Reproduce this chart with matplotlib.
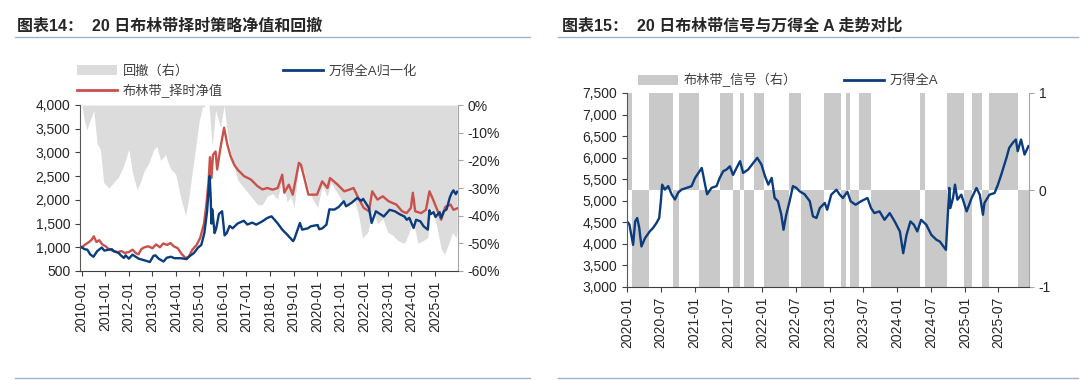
import matplotlib
matplotlib.use('Agg')
import matplotlib.pyplot as plt
import matplotlib.dates as mdates
import matplotlib.ticker as mticker
from matplotlib.patches import Patch
from matplotlib.lines import Line2D
import pandas as pd

plt.rcParams['font.family'] = ['Liberation Sans', 'Noto Sans CJK SC']
plt.rcParams['axes.unicode_minus'] = False

# ---------- chart 14: strategy NAV vs Wind A, drawdown on the right ----------
wind_dates = ['2010-01-04', '2010-02-15', '2010-04-01', '2010-05-15', '2010-07-05', '2010-08-30',
              '2010-11-10', '2010-12-20', '2011-02-28', '2011-04-15', '2011-05-20', '2011-07-30',
              '2011-09-10', '2011-10-20', '2011-11-15', '2012-01-05', '2012-03-01', '2012-04-20',
              '2012-06-05', '2012-08-20', '2012-11-25', '2013-01-20', '2013-02-20', '2013-04-10',
              '2013-06-25', '2013-08-15', '2013-10-20', '2013-12-10', '2014-03-10', '2014-05-10',
              '2014-06-15', '2014-08-10', '2014-10-10', '2014-12-10', '2015-02-01', '2015-03-20',
              '2015-05-01', '2015-06-10', '2015-06-25', '2015-07-08', '2015-07-20', '2015-08-26',
              '2015-09-20', '2015-11-01', '2015-12-20', '2016-01-28', '2016-03-01', '2016-04-15',
              '2016-06-01', '2016-08-15', '2016-11-20', '2017-01-15', '2017-04-01', '2017-06-01',
              '2017-09-05', '2017-11-20', '2018-01-25', '2018-04-25', '2018-07-10', '2018-09-25',
              '2018-12-25', '2019-01-15', '2019-04-10', '2019-05-15', '2019-08-10', '2019-09-25',
              '2020-01-10', '2020-02-03', '2020-03-23', '2020-05-25', '2020-07-10', '2020-09-25',
              '2020-12-01', '2021-02-18', '2021-03-25', '2021-06-20', '2021-09-15', '2021-11-15',
              '2021-12-15', '2022-03-15', '2022-04-26', '2022-06-30', '2022-10-31', '2023-01-30',
              '2023-04-20', '2023-07-01', '2023-09-15', '2023-10-23', '2023-12-01', '2024-02-05',
              '2024-03-15', '2024-05-20', '2024-07-10', '2024-09-13', '2024-10-08', '2024-10-30',
              '2024-12-10', '2025-01-10', '2025-03-15', '2025-04-08', '2025-05-20', '2025-07-01',
              '2025-08-20', '2025-09-20', '2025-10-15', '2025-11-20', '2025-12-12']
wind_norm = [1000, 960, 950, 850, 800, 916,
             995, 930, 950, 960, 916, 880,
             820, 775, 830, 760, 845, 800,
             760, 730, 690, 820, 830, 760,
             700, 780, 800, 770, 770, 760,
             750, 820, 880, 990, 1050, 1300,
             1750, 2500, 2100, 1500, 1800, 1300,
             1400, 1700, 1760, 1250, 1300, 1450,
             1400, 1500, 1560, 1480, 1520, 1477,
             1548, 1618, 1653, 1513, 1372, 1266,
             1130, 1180, 1513, 1372, 1400, 1442,
             1470, 1380, 1400, 1477, 1800, 1794,
             1850, 1970, 1864, 1940, 2040, 1980,
             2020, 1829, 1513, 1759, 1650, 1790,
             1760, 1700, 1650, 1580, 1620, 1407,
             1580, 1548, 1442, 1372, 1780, 1700,
             1740, 1640, 1740, 1620, 1760, 1800,
             2050, 2150, 2200, 2120, 2170]

nav_dates = ['2010-01-04', '2010-02-20', '2010-04-15', '2010-06-01', '2010-07-10', '2010-08-20',
             '2010-10-01', '2010-11-20', '2011-01-10', '2011-03-01', '2011-05-15', '2011-07-20',
             '2011-09-10', '2011-11-01', '2012-01-05', '2012-03-01', '2012-04-20', '2012-06-01',
             '2012-07-15', '2012-09-01', '2012-11-01', '2013-01-05', '2013-03-01', '2013-05-01',
             '2013-06-20', '2013-08-20', '2013-10-10', '2013-12-01', '2014-02-01', '2014-04-01',
             '2014-06-01', '2014-07-20', '2014-09-15', '2014-11-20', '2015-01-15', '2015-03-15',
             '2015-04-20', '2015-05-25', '2015-06-15', '2015-07-08', '2015-08-01', '2015-09-10',
             '2015-10-05', '2015-11-25', '2016-01-20', '2016-03-10', '2016-04-30', '2016-06-25',
             '2016-08-15', '2016-11-25', '2017-03-10', '2017-06-20', '2017-09-05', '2017-11-20',
             '2018-02-10', '2018-05-01', '2018-07-10', '2018-08-10', '2018-10-20', '2018-12-20',
             '2019-03-25', '2019-04-25', '2019-06-10', '2019-08-20', '2019-12-31', '2020-03-20',
             '2020-06-10', '2020-07-20', '2020-11-15', '2021-02-25', '2021-05-15', '2021-07-20',
             '2021-10-01', '2021-12-25', '2022-03-15', '2022-05-05', '2022-07-25', '2022-10-15',
             '2023-01-15', '2023-05-15', '2023-08-10', '2023-10-20', '2023-12-25', '2024-01-25',
             '2024-03-01', '2024-06-01', '2024-08-15', '2024-10-08', '2024-11-20', '2025-02-15',
             '2025-04-08', '2025-06-10', '2025-09-01', '2025-10-15', '2025-12-12']
nav_vals = [1000, 1050, 1100, 1150, 1230, 1110,
            1150, 1060, 1020, 960, 916, 900,
            920, 880, 900, 950, 880, 850,
            960, 1000, 1020, 980, 1060, 1000,
            1080, 1050, 1090, 1020, 980, 860,
            775, 800, 950, 1050, 1200, 1500,
            1900, 2400, 2900, 2460, 2950, 3020,
            2640, 3100, 3520, 3170, 2920, 2740,
            2640, 2500, 2430, 2290, 2220, 2250,
            2215, 2250, 2530, 2150, 2320, 2110,
            2780, 2740, 2500, 2110, 2110, 2390,
            2250, 2460, 2320, 2180, 2215, 2250,
            2040, 1830, 1760, 2180, 2005, 2075,
            1970, 1900, 1760, 1720, 1830, 2150,
            1760, 1720, 1790, 2180, 2050, 1760,
            1580, 1850, 1900, 1790, 1820]

dd_dates = ['2010-01-04', '2010-02-05', '2010-03-25', '2010-05-20', '2010-07-10', '2010-08-30',
            '2010-10-20', '2010-12-10', '2011-03-01', '2011-05-15', '2011-07-30', '2011-10-15',
            '2012-01-05', '2012-02-25', '2012-05-10', '2012-07-01', '2012-08-25', '2012-11-10',
            '2013-01-25', '2013-03-15', '2013-05-10', '2013-07-25', '2013-10-10', '2013-12-30',
            '2014-03-15', '2014-06-01', '2014-07-20', '2014-09-15', '2014-11-05', '2014-12-28',
            '2015-02-15', '2015-04-10', '2015-06-01', '2015-07-20', '2015-09-10', '2015-11-28',
            '2016-01-20', '2016-03-10', '2016-05-01', '2016-06-25', '2016-08-15', '2016-11-25',
            '2017-03-10', '2017-06-20', '2017-09-05', '2017-11-20', '2018-02-10', '2018-04-25',
            '2018-07-10', '2018-09-25', '2018-11-20', '2019-01-10', '2019-03-28', '2019-06-12',
            '2019-08-08', '2019-10-22', '2020-01-08', '2020-03-25', '2020-06-05', '2020-08-05',
            '2020-11-15', '2021-02-25', '2021-05-15', '2021-07-30', '2021-10-15', '2021-12-05',
            '2022-02-25', '2022-05-12', '2022-07-28', '2022-10-15', '2023-01-01', '2023-03-18',
            '2023-06-05', '2023-09-15', '2023-12-01', '2024-01-22', '2024-04-12', '2024-07-01',
            '2024-09-12', '2024-11-03', '2025-01-22', '2025-04-08', '2025-05-30', '2025-08-05',
            '2025-10-01', '2025-11-25', '2025-12-12']
dd_vals = [0.0, -0.047, -0.09, -0.05, -0.02, -0.14,
           -0.16, -0.28, -0.30, -0.28, -0.26, -0.22,
           -0.16, -0.24, -0.306, -0.28, -0.24, -0.21,
           -0.16, -0.15, -0.20, -0.18, -0.23, -0.25,
           -0.33, -0.40, -0.34, -0.24, -0.155, -0.06,
           -0.01, 0.0, 0.0, -0.15, -0.02, -0.08,
           0.0, -0.10, -0.17, -0.22, -0.27, -0.30,
           -0.33, -0.36, -0.36, -0.33, -0.32, -0.34,
           -0.27, -0.35, -0.33, -0.37, -0.21, -0.24,
           -0.29, -0.34, -0.37, -0.29, -0.33, -0.28,
           -0.32, -0.36, -0.35, -0.34, -0.41, -0.48,
           -0.46, -0.38, -0.43, -0.41, -0.46, -0.47,
           -0.49, -0.50, -0.46, -0.41, -0.50, -0.49,
           -0.48, -0.37, -0.43, -0.52, -0.54, -0.50,
           -0.46, -0.48, -0.45]

left_years = list(range(2010, 2026))

# ---------- chart 15: Bollinger signal vs Wind A ----------
sig_dates = ['2020-01-02', '2020-01-26', '2020-04-28', '2020-09-04', '2020-10-07', '2021-01-25',
             '2021-05-19', '2021-07-25', '2021-09-04', '2021-09-25', '2021-11-16', '2022-01-10',
             '2022-05-28', '2022-07-28', '2022-12-01', '2023-03-04', '2023-03-28', '2023-04-19',
             '2023-06-10', '2023-08-10', '2024-05-01', '2024-06-01', '2024-09-24', '2024-12-28',
             '2025-02-06', '2025-04-03', '2025-05-10', '2025-10-12']
sig_vals = [1, -1, 1, -1, 1, -1,
            1, -1, 1, -1, 1, -1,
            1, -1, 1, -1, 1, -1,
            1, -1, 1, -1, 1, -1,
            1, -1, 1, -1]
sig_end = '2025-12-12'

windA_dates = ['2020-01-02', '2020-01-14', '2020-02-03', '2020-02-14', '2020-02-25', '2020-03-07',
               '2020-03-19', '2020-04-07', '2020-05-03', '2020-05-21', '2020-06-09', '2020-06-23',
               '2020-07-02', '2020-07-09', '2020-07-23', '2020-08-11', '2020-08-29', '2020-09-16',
               '2020-10-04', '2020-10-22', '2020-11-19', '2020-12-15', '2021-01-03', '2021-01-21',
               '2021-02-08', '2021-02-26', '2021-03-09', '2021-04-02', '2021-04-29', '2021-05-16',
               '2021-06-04', '2021-06-22', '2021-07-10', '2021-07-27', '2021-08-15', '2021-09-03',
               '2021-09-20', '2021-10-17', '2021-11-14', '2021-12-05', '2021-12-28', '2022-01-16',
               '2022-02-03', '2022-02-21', '2022-03-09', '2022-03-27', '2022-04-14', '2022-04-26',
               '2022-05-11', '2022-05-29', '2022-06-16', '2022-07-04', '2022-07-22', '2022-08-18',
               '2022-09-15', '2022-10-02', '2022-10-21', '2022-11-08', '2022-12-05', '2022-12-18',
               '2023-01-09', '2023-02-06', '2023-02-24', '2023-03-13', '2023-04-06', '2023-04-24',
               '2023-05-21', '2023-06-18', '2023-07-24', '2023-08-12', '2023-08-30', '2023-09-27',
               '2023-10-24', '2023-11-21', '2023-12-18', '2024-01-15', '2024-02-02', '2024-02-20',
               '2024-03-12', '2024-03-31', '2024-04-18', '2024-05-09', '2024-06-06', '2024-07-03',
               '2024-07-31', '2024-08-18', '2024-09-20', '2024-10-08', '2024-10-14', '2024-10-28',
               '2024-11-08', '2024-11-21', '2024-12-12', '2025-01-10', '2025-02-06', '2025-03-04',
               '2025-03-22', '2025-04-08', '2025-04-16', '2025-05-13', '2025-06-10', '2025-06-28',
               '2025-07-16', '2025-08-13', '2025-08-28', '2025-09-16', '2025-10-03', '2025-10-13',
               '2025-10-31', '2025-11-19', '2025-12-10']
windA_vals = [4520, 4450, 3977, 4520, 4600, 4380,
              3940, 4130, 4290, 4370, 4490, 4600,
              4987, 5375, 5260, 5340, 5150, 5030,
              5190, 5260, 5300, 5340, 5529, 5646,
              5762, 5375, 5150, 5300, 5340, 5530,
              5685, 5725, 5800, 5600, 5760, 5918,
              5646, 5725, 5880, 5995, 5840, 5570,
              5375, 5530, 5066, 4990, 4680, 4328,
              4680, 4990, 5340, 5300, 5220, 5150,
              4990, 4640, 4600, 4830, 4950, 4792,
              5141, 5257, 5141, 5064, 5210, 4987,
              4908, 4987, 5064, 4831, 4715, 4754,
              4559, 4715, 4521, 4289, 3784, 4210,
              4521, 4443, 4289, 4559, 4443, 4210,
              4094, 4055, 3861, 5300, 4831, 5060,
              5374, 5025, 5141, 4754, 5064, 5296,
              5141, 4676, 4947, 5141, 5180, 5374,
              5606, 5994, 6227, 6343, 6421, 6150,
              6421, 6072, 6266]

BLUE = '#0b3c7d'
RED = '#c9514c'
GREY_DD = '#dcdcdc'
GREY_SIG = '#c9c9c9'
LINE_C = '#9fb3cc'
TXT = '#262626'

fig = plt.figure(figsize=(10.8, 3.8), dpi=100)

def style_axes(ax, axr):
    ax.spines['top'].set_visible(False)
    ax.spines['right'].set_visible(False)
    ax.spines['left'].set_color('#595959')
    ax.spines['bottom'].set_color('#404040')
    for s in ['top', 'left', 'bottom']:
        axr.spines[s].set_visible(False)
    axr.spines['right'].set_color('#a6a6a6')
    ax.tick_params(axis='both', direction='out', length=3.5, colors='#404040',
                   labelcolor=TXT, labelsize=10)
    axr.tick_params(axis='y', direction='out', length=3.5, colors='#a6a6a6',
                    labelcolor=TXT, labelsize=10)
    ax.set_zorder(axr.get_zorder() + 1)
    ax.patch.set_visible(False)

# left panel
ax1 = fig.add_axes([80 / 1080, 1 - 271 / 380, 378 / 1080, 166 / 380])
ax1r = ax1.twinx()
ax1r.fill_between(pd.to_datetime(dd_dates), dd_vals, 0, color=GREY_DD, lw=0)
ax1r.set_ylim(-0.6, 0)
ax1r.set_yticks([-0.6, -0.5, -0.4, -0.3, -0.2, -0.1, 0])
ax1r.yaxis.set_major_formatter(mticker.FuncFormatter(lambda v, p: f'{int(round(v * 100))}%'))

ax1.plot(pd.to_datetime(nav_dates), nav_vals, color=RED, lw=1.7)
ax1.plot(pd.to_datetime(wind_dates), wind_norm, color=BLUE, lw=1.7)
ax1.set_ylim(500, 4000)
ax1.set_yticks(range(500, 4001, 500))
ax1.yaxis.set_major_formatter(mticker.FuncFormatter(lambda v, p: f'{v:,.0f}'))
ax1.set_xlim(pd.Timestamp('2009-12-08'), pd.Timestamp('2025-12-25'))
ax1.set_xticks(pd.to_datetime([f'{y}-01-01' for y in left_years]))
ax1.xaxis.set_major_formatter(mdates.DateFormatter('%Y-%m'))
plt.setp(ax1.get_xticklabels(), rotation=90)
style_axes(ax1, ax1r)

fig.legend(handles=[Patch(facecolor=GREY_DD, edgecolor='none'),
                    Line2D([], [], color=RED, lw=2),
                    Line2D([], [], color=BLUE, lw=2)],
           labels=['回撤（右）', '布林带_择时净值', '万得全A归一化'],
           ncol=2, loc='upper left', bbox_to_anchor=(77 / 1080, 1 - 65 / 380),
           frameon=False, fontsize=9.5, handlelength=3.0, handleheight=0.8,
           handletextpad=0.45, columnspacing=4.6, labelspacing=0.5,
           borderpad=0, borderaxespad=0, labelcolor='#404040')

# right panel
ax2 = fig.add_axes([627 / 1080, 1 - 287 / 380, 402 / 1080, 194 / 380])
ax2r = ax2.twinx()
sx = pd.to_datetime(sig_dates + [sig_end])
sy = sig_vals + [sig_vals[-1]]
ax2r.fill_between(sx, sy, 0, step='post', color=GREY_SIG, lw=0)
ax2r.set_ylim(-1, 1)
ax2r.set_yticks([-1, 0, 1])

ax2.plot(pd.to_datetime(windA_dates), windA_vals, color=BLUE, lw=1.7)
ax2.set_ylim(3000, 7500)
ax2.set_yticks(range(3000, 7501, 500))
ax2.yaxis.set_major_formatter(mticker.FuncFormatter(lambda v, p: f'{v:,.0f}'))
ax2.set_xlim(pd.Timestamp('2020-01-01'), pd.Timestamp('2025-12-13'))
ax2.xaxis.set_major_locator(mdates.MonthLocator(bymonth=[1, 7]))
ax2.xaxis.set_major_formatter(mdates.DateFormatter('%Y-%m'))
plt.setp(ax2.get_xticklabels(), rotation=90)
style_axes(ax2, ax2r)

fig.legend(handles=[Patch(facecolor=GREY_SIG, edgecolor='none'),
                    Line2D([], [], color=BLUE, lw=2)],
           labels=['布林带_信号（右）', '万得全A'],
           ncol=2, loc='upper left', bbox_to_anchor=(638 / 1080, 1 - 73 / 380),
           frameon=False, fontsize=9.5, handlelength=3.0, handleheight=0.8,
           handletextpad=0.45, columnspacing=3.6,
           borderpad=0, borderaxespad=0, labelcolor='#404040')

# titles and rules
fig.text(17 / 1080, 1 - 26 / 380, '图表14：  20 日布林带择时策略净值和回撤',
         fontsize=11.5, fontweight='bold', color=TXT, va='center')
fig.text(562 / 1080, 1 - 26 / 380, '图表15：  20 日布林带信号与万得全 A 走势对比',
         fontsize=11.5, fontweight='bold', color=TXT, va='center')
for x0, x1 in [(15, 530), (558, 1078)]:
    fig.add_artist(Line2D([x0 / 1080, x1 / 1080], [1 - 37 / 380] * 2, color=LINE_C, lw=1))
    fig.add_artist(Line2D([x0 / 1080, x1 / 1080], [1 - 378 / 380] * 2, color=LINE_C, lw=1))

fig.savefig('out.png', dpi=100)
